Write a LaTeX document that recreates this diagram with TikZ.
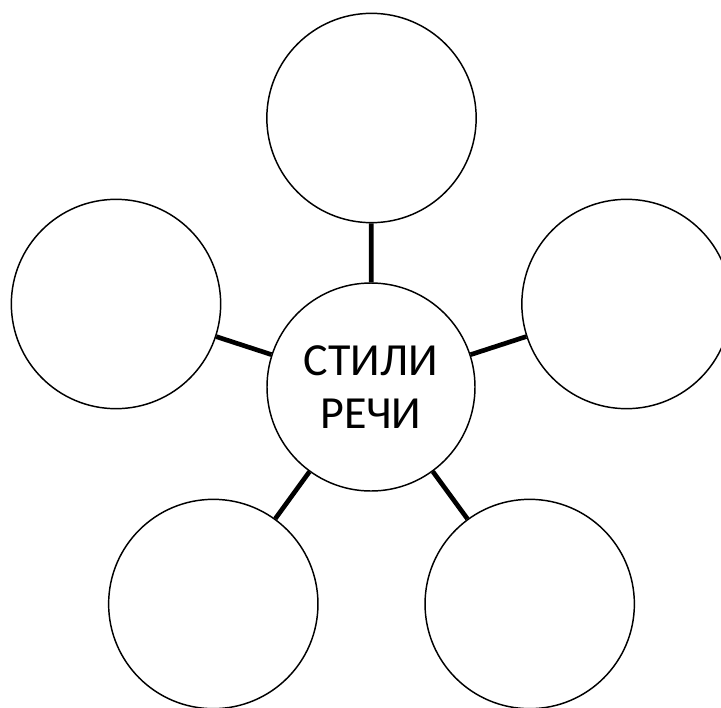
\documentclass[tikz,border=0pt]{standalone}
\usepackage{fontspec}
\setmainfont{Carlito}
\usetikzlibrary{positioning}
\tikzset{
  topic/.style={circle,draw=black,line width=1.1pt,minimum size=156pt,inner sep=0pt,align=center,font=\fontsize{34.5}{40}\selectfont,fill=white},
  idea/.style={circle,draw=black,line width=1.1pt,minimum size=157pt,inner sep=0pt,fill=white},
  link/.style={line width=3.5pt,draw=black}
}
\begin{document}
\begin{tikzpicture}[x=0.75pt,y=-0.75pt]
% Stili rechi
\useasboundingbox (0,0) rectangle (721,707);
\node[topic] (c) at (371,387) {СТИЛИ\\РЕЧИ};
\node[idea] (t) at (371.5,118) {};
\node[idea] (l) at (116,304) {};
\node[idea] (r) at (626.5,304) {};
\node[idea] (bl) at (213.3,604) {};
\node[idea] (br) at (529.7,604) {};

\draw[link] (c) -- (t);
\draw[link] (c) -- (l);
\draw[link] (c) -- (r);
\draw[link] (c) -- (bl);
\draw[link] (c) -- (br);
\end{tikzpicture}
\end{document}
